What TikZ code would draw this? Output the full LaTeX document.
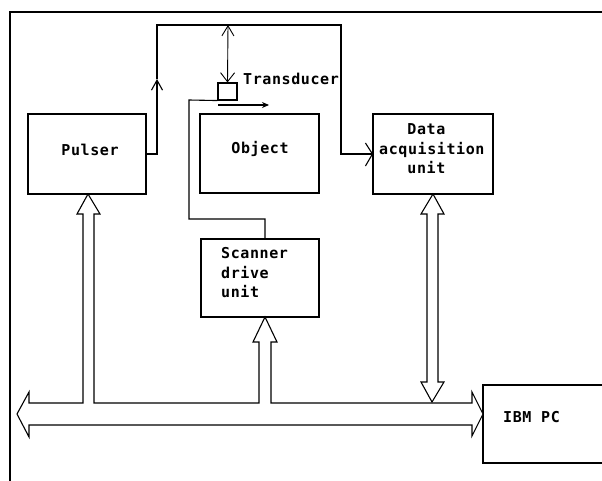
\documentclass[tikz,border=0pt]{standalone}
\usepackage{fontspec}
\setmonofont[LetterSpace=4]{DejaVu Sans Mono}
\usetikzlibrary{arrows.meta,calc}
\begin{document}
\begin{tikzpicture}[x=1pt,y=-1pt,
  wire/.style={line width=1.1pt,line join=miter},
  unitbox/.style={draw,line width=1.1pt,inner sep=0pt},
  lbl/.style={font=\ttfamily\bfseries\fontsize{15}{19.5}\selectfont,inner sep=0pt},
  busline/.style={line width=1.1pt,line join=miter,fill=white}]
\useasboundingbox (0,0) rectangle (602,481);

% frame
\draw[wire] (604,12) -- (10,12) -- (10,483);

% unit boxes
\node[unitbox,minimum width=118pt,minimum height=80pt] (pulser) at (87,154) {};
\node[unitbox,minimum width=119pt,minimum height=79pt] (object) at (259.5,153.5) {};
\node[unitbox,minimum width=120pt,minimum height=80pt] (daq) at (433,154) {};
\node[unitbox,minimum width=118pt,minimum height=78pt] (sdu) at (260,278) {};
\node[unitbox,minimum width=124pt,minimum height=78pt] (pc) at (545,424) {};
\node[unitbox,minimum width=19pt,minimum height=17pt] (xd) at (227.5,91.5) {};

% labels
\node[lbl] (tpulser) at (90,150) {Pulser};
\node[lbl] (tobject) at (260,149) {Object};
\node[lbl,align=left,anchor=west] (tdaq) at (379,149) {\phantom{xxx}Data\\acquisition\\\phantom{xxx}unit};
\node[lbl,align=left,anchor=west] (tsdu) at (221,273) {Scanner\\drive\\unit};
\node[lbl,anchor=west] (tpc) at (503,417) {IBM PC};
\node[lbl,anchor=west] (txd) at (243,79) {Transducer};

% pulse path: pulser -> transducer line -> data acquisition unit
\coordinate (upmark) at (157,79);
\coordinate (tl) at (157,25);
\coordinate (tr) at (341,25);
\draw[wire,-{Straight Barb[length=10pt,width=11pt]}] (pulser.east) -| (upmark);
\draw[wire] (upmark) -- (tl) -- (tr) |- (daq.west);
% open chevron where the pulse enters the data acquisition unit
\draw[wire] ($(daq.west)+(-7,-11)$) -- (daq.west) -- ++(-7,12);

% transducer signal
\coordinate (xdtop) at (228,25);
\draw[line width=0.9pt,{Straight Barb[length=10pt,width=12pt]}-{Straight Barb[length=9pt,width=14pt]}] (xdtop) -- (xd.north);

% scan motion
\coordinate (mv1) at (218,105);
\coordinate (mv2) at (269,105);
\draw[wire,-{Stealth[length=7pt,width=6pt]}] (mv1) -- (mv2);

% scanner cable
\coordinate (cab1) at (189,100);
\coordinate (cab2) at (265,219);
\draw[wire] (xd.south west) -- (cab1) |- (cab2) -- (cab2 |- sdu.north);

% system bus with branches to pulser and scanner drive unit
\draw[busline] (17,414) -- (29,392) -- (29,403) -- (83,403) -- (83,214)
  -- (77,214) -- (88,194) -- (100,214) -- (94,214) -- (94,403)
  -- (259,403) -- (259,342) -- (253,342) -- (265,317) -- (277,342)
  -- (271,342) -- (271,403) -- (472,403) -- (472,392) -- (483,414)
  -- (472,436) -- (472,425) -- (29,425) -- (29,437) -- cycle;

% bidirectional bus to data acquisition unit
\draw[busline] (433,194) -- (444,214) -- (438,214) -- (438,382) -- (444,382)
  -- (432,402) -- (421,382) -- (427,382) -- (427,214) -- (421,214) -- cycle;
\end{tikzpicture}
\end{document}
